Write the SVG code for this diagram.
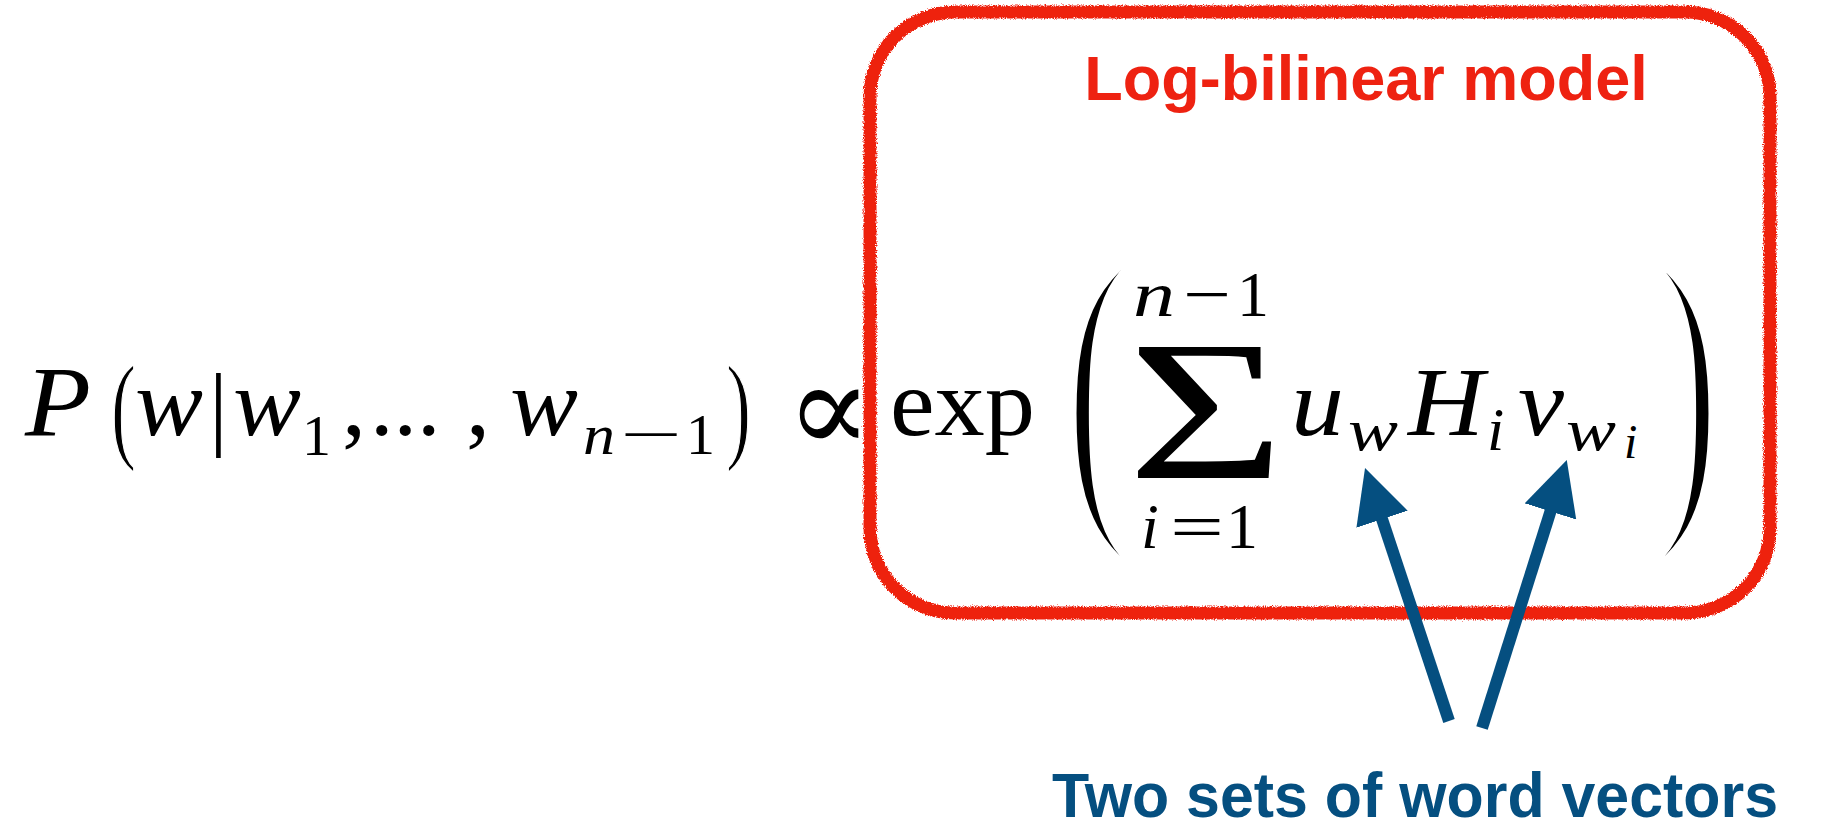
<svg xmlns="http://www.w3.org/2000/svg" width="1822" height="830" viewBox="0 0 1822 830">
  <style>
    .m { font-family: 'Liberation Serif', 'DejaVu Serif', serif; fill: #000; }
    .it { font-style: italic; }
    .paren { stroke: #fff; }
    .title { font-family: 'Liberation Sans', Arial, sans-serif; font-weight: bold; }
  </style>
  <defs>
    <filter id="rough" x="-3%" y="-3%" width="106%" height="106%">
      <feTurbulence type="fractalNoise" baseFrequency="0.9" numOctaves="2" seed="4" result="noise"/>
      <feDisplacementMap in="SourceGraphic" in2="noise" scale="5" xChannelSelector="R" yChannelSelector="G"/>
    </filter>
    <marker id="ah" viewBox="0 0 54 54" markerUnits="userSpaceOnUse" markerWidth="54" markerHeight="54" refX="10" refY="27" orient="auto">
      <path d="M0,0 L54,27 L0,54 z" fill="#054F80"/>
    </marker>
  </defs>

  <rect width="1822" height="830" fill="#fff"/>

  <g id="formula-left" class="m">
    <text class="it" x="25" y="435" font-size="100" textLength="66" lengthAdjust="spacingAndGlyphs">P</text>
    <text class="paren" transform="translate(111,447) scale(0.8,1.26)" font-size="94" stroke-width="1.2">(</text>
    <text class="it" x="135" y="435" font-size="96" textLength="68" lengthAdjust="spacingAndGlyphs">w</text>
    <text x="209" y="438" font-size="94">|</text>
    <text class="it" x="233" y="435" font-size="96" textLength="68" lengthAdjust="spacingAndGlyphs">w</text>
    <text x="302" y="455" font-size="58">1</text>
    <text x="342" y="435" font-size="96">,</text>
    <text x="370" y="435" font-size="94">...</text>
    <text x="466" y="435" font-size="96">,</text>
    <text class="it" x="510" y="435" font-size="96" textLength="68" lengthAdjust="spacingAndGlyphs">w</text>
    <text class="it" x="583" y="454" font-size="58" textLength="32" lengthAdjust="spacingAndGlyphs">n</text>
    <text x="620" y="454" font-size="58" textLength="62" lengthAdjust="spacingAndGlyphs">−</text>
    <text x="686" y="454" font-size="58">1</text>
    <text class="paren" transform="translate(726,447) scale(0.8,1.26)" font-size="94" stroke-width="1.2">)</text>
    <text x="786" y="452" font-size="127">∝</text>
  </g>

  <g id="formula-model" class="m">
    <text x="890" y="435" font-size="96" textLength="145" lengthAdjust="spacingAndGlyphs">exp</text>
    <text class="paren" transform="translate(1063,497) scale(2.3,3.69)" font-size="94" stroke-width="3.5">(</text>
    <text transform="translate(1127.5,478) scale(1.35,1)" font-size="200">Σ</text>
    <text class="it" x="1133" y="316" font-size="64" textLength="42" lengthAdjust="spacingAndGlyphs">n</text>
    <text x="1183" y="316" font-size="64" textLength="48" lengthAdjust="spacingAndGlyphs">−</text>
    <text x="1237" y="316" font-size="64">1</text>
    <text class="it" x="1141" y="548" font-size="64">i</text>
    <text x="1170" y="548" font-size="64" textLength="54" lengthAdjust="spacingAndGlyphs">=</text>
    <text x="1226" y="548" font-size="64">1</text>
    <text class="it" x="1291" y="435" font-size="96" textLength="53" lengthAdjust="spacingAndGlyphs">u</text>
    <text class="it" x="1348" y="450" font-size="60" textLength="50" lengthAdjust="spacingAndGlyphs">w</text>
    <text class="it" x="1408" y="435" font-size="98" textLength="76" lengthAdjust="spacingAndGlyphs">H</text>
    <text class="it" x="1487" y="450" font-size="62">i</text>
    <text class="it" x="1518" y="435" font-size="96" textLength="46" lengthAdjust="spacingAndGlyphs">v</text>
    <text class="it" x="1566" y="450" font-size="60" textLength="50" lengthAdjust="spacingAndGlyphs">w</text>
    <text class="it" x="1624" y="458" font-size="48">i</text>
    <text class="paren" transform="translate(1650,497) scale(2.3,3.69)" font-size="94" stroke-width="3.5">)</text>
  </g>

  <g id="log-bilinear-box">
    <rect x="870" y="12" width="900" height="601" rx="85" ry="85" fill="none" stroke="#EE2211" stroke-width="13" filter="url(#rough)"/>
    <text class="title" x="1366" y="100" font-size="63" fill="#EE2211" text-anchor="middle">Log-bilinear model</text>
  </g>

  <g id="word-vectors-label">
    <text class="title" x="1415" y="817" font-size="63" fill="#054F80" text-anchor="middle" textLength="726" lengthAdjust="spacingAndGlyphs">Two sets of word vectors</text>
  </g>

  <g id="connectors" stroke="#054F80" stroke-width="12" fill="none">
    <line x1="1449" y1="721" x2="1378.9" y2="509.7" marker-end="url(#ah)"/>
    <line x1="1482" y1="728" x2="1553.5" y2="501.9" marker-end="url(#ah)"/>
  </g>
</svg>
